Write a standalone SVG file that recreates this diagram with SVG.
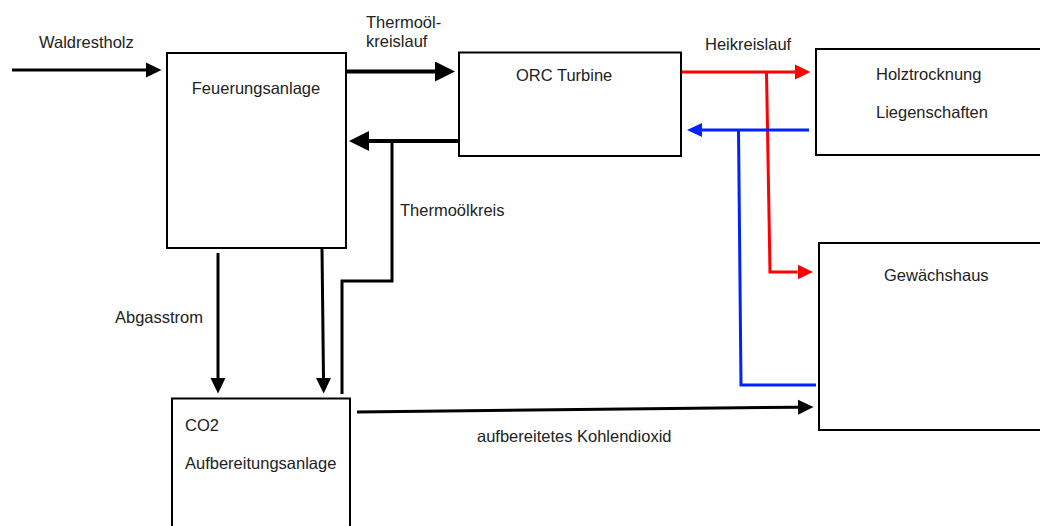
<svg xmlns="http://www.w3.org/2000/svg" width="1040" height="526" viewBox="0 0 1040 526">
<style>
.box{fill:#fff;stroke:#000;stroke-width:2}
.t{font-family:"Liberation Sans",Arial,sans-serif;font-size:16.5px;fill:#222}
.k{fill:none;stroke:#000;stroke-width:3}
.kk{fill:none;stroke:#000;stroke-width:4}
.r{fill:none;stroke:#ff0000;stroke-width:3}
.b{fill:none;stroke:#0022ff;stroke-width:3}
</style>
<defs>
<marker id="ak" markerUnits="userSpaceOnUse" markerWidth="16" markerHeight="16" refX="0" refY="8" orient="auto"><path d="M0,0.5 L15.5,8 L0,15.5 z" fill="#000"/></marker>
<marker id="akk" markerUnits="userSpaceOnUse" markerWidth="20" markerHeight="20" refX="0" refY="10" orient="auto"><path d="M0,0 L20,10 L0,20 z" fill="#000"/></marker>
<marker id="ar" markerUnits="userSpaceOnUse" markerWidth="16" markerHeight="16" refX="0" refY="8" orient="auto"><path d="M0,0.5 L15.5,8 L0,15.5 z" fill="#ff0000"/></marker>
<marker id="ab" markerUnits="userSpaceOnUse" markerWidth="16" markerHeight="16" refX="0" refY="8" orient="auto"><path d="M0,1 L15,8 L0,15 z" fill="#0022ff"/></marker>
</defs>
<rect width="1040" height="526" fill="#fff"/>
<g id="connectors">
<line class="k" x1="12" y1="70" x2="146" y2="70" marker-end="url(#ak)"/>
<line class="kk" x1="346" y1="71.5" x2="435" y2="71.5" marker-end="url(#akk)"/>
<line class="kk" x1="458" y1="141" x2="369" y2="141" marker-end="url(#akk)"/>
<polyline class="k" points="392,141 392,281 342,281 342,394"/>
<line class="k" x1="218" y1="253" x2="218" y2="378" marker-end="url(#ak)"/>
<line class="k" x1="322" y1="248" x2="323.5" y2="378" marker-end="url(#ak)"/>
<line class="k" x1="357" y1="412" x2="798" y2="407.2" marker-end="url(#ak)"/>
<line class="r" x1="681" y1="72" x2="795" y2="72" marker-end="url(#ar)"/>
<polyline class="r" points="766.5,72 770,272 797.5,272" marker-end="url(#ar)"/>
<line class="b" x1="809" y1="130" x2="702" y2="130" marker-end="url(#ab)"/>
<polyline class="b" points="738.5,130 741,385 816,385"/>
</g>
<g id="labels">
<text class="t" x="39" y="48">Waldrestholz</text>
<text class="t" x="366" y="28">Thermoöl-</text>
<text class="t" x="366" y="46.5">kreislauf</text>
<text class="t" x="400" y="216">Thermoölkreis</text>
<text class="t" x="115" y="322.5">Abgasstrom</text>
<text class="t" x="477" y="442">aufbereitetes Kohlendioxid</text>
<text class="t" x="705" y="50">Heikreislauf</text>
</g>
<g id="feuerungsanlage">
<rect class="box" x="167" y="53" width="179" height="195"/>
<text class="t" x="256" y="94" text-anchor="middle">Feuerungsanlage</text>
</g>
<g id="orc-turbine">
<rect class="box" x="459" y="52.5" width="222" height="103.5"/>
<text class="t" x="516" y="81">ORC Turbine</text>
</g>
<g id="holztrocknung">
<rect class="box" x="816" y="49" width="240" height="106"/>
<text class="t" x="876" y="80">Holztrocknung</text>
<text class="t" x="876" y="118">Liegenschaften</text>
</g>
<g id="gewaechshaus">
<rect class="box" x="819" y="243" width="240" height="187"/>
<text class="t" x="884" y="280.5">Gewächshaus</text>
</g>
<g id="co2-aufbereitungsanlage">
<rect class="box" x="172" y="398.5" width="178" height="140"/>
<text class="t" x="185" y="430.5">CO2</text>
<text class="t" x="185" y="468.5">Aufbereitungsanlage</text>
</g>
</svg>
